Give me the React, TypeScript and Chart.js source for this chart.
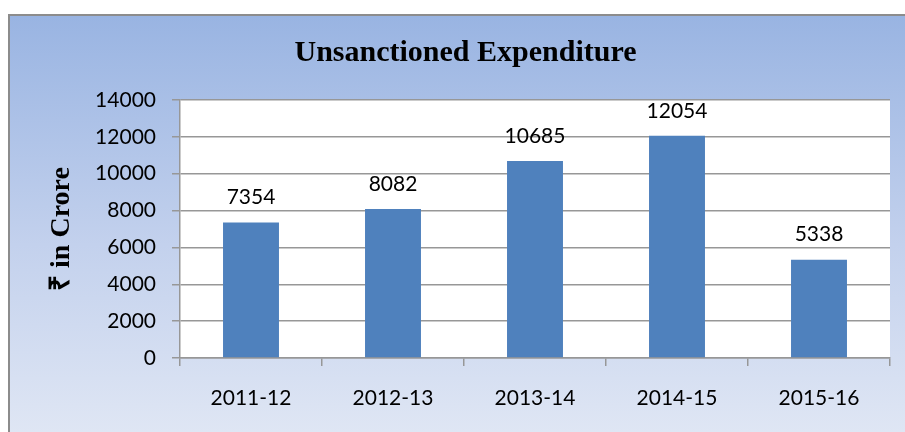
import { useEffect, useRef } from "react";
import { Chart, registerables } from "chart.js";

Chart.register(...registerables);

const categories = ["2011-12", "2012-13", "2013-14", "2014-15", "2015-16"];
const values = [7354, 8082, 10685, 12054, 5338];
const yMin = 0;
const yMax = 14000;
const yStep = 2000;
const titleText = "Unsanctioned Expenditure";
const yAxisTitle = "₹ in Crore";

const gridColor = "#979797";
const barColor = "#4F81BD";

const plotBg = {
  id: "plotBg",
  beforeDraw(chart: any) {
    const { ctx, chartArea: a } = chart;
    ctx.save();
    ctx.fillStyle = "#ffffff";
    ctx.fillRect(a.left, a.top, a.right - a.left, a.bottom - a.top);
    ctx.restore();
  },
};

const valueLabels = {
  id: "valueLabels",
  afterDatasetsDraw(chart: any) {
    const { ctx } = chart;
    const meta = chart.getDatasetMeta(0);
    ctx.save();
    ctx.font = "21px Lato, 'Open Sans', sans-serif";
    ctx.fillStyle = "#000";
    ctx.textAlign = "center";
    ctx.textBaseline = "middle";
    meta.data.forEach((bar: any, i: number) => {
      ctx.fillText(String(values[i]), bar.x, bar.y - 25);
    });
    ctx.restore();
  },
};

export default function App() {
  const ref = useRef<HTMLCanvasElement>(null);

  useEffect(() => {
    if (!ref.current) return;
    const tickFont = { family: "Lato, 'Open Sans', sans-serif", size: 21 };
    const chart = new Chart(ref.current, {
      type: "bar",
      data: {
        labels: categories,
        datasets: [
          {
            data: values,
            backgroundColor: barColor,
            borderWidth: 0,
            barPercentage: 0.394,
            categoryPercentage: 1,
          },
        ],
      },
      options: {
        responsive: false,
        animation: false,
        layout: { padding: { left: 31, right: 15, top: 0, bottom: 0 } },
        plugins: {
          legend: { display: false },
          tooltip: { enabled: false },
          title: {
            display: true,
            text: titleText,
            color: "#000",
            font: { family: "'Liberation Serif', 'Times New Roman', serif", size: 30, weight: "bold", lineHeight: 1.2 },
            padding: { top: 19, bottom: 29 },
          },
        },
        scales: {
          x: {
            grid: {
              display: true,
              drawOnChartArea: false,
              drawTicks: true,
              tickLength: 8,
              color: gridColor,
              lineWidth: 1.5,
            },
            border: { display: true, color: gridColor, width: 1.5 },
            ticks: { color: "#000", font: tickFont, padding: 20 },
            afterFit: (s: any) => {
              s.height = 74;
            },
          },
          y: {
            min: yMin,
            max: yMax,
            ticks: {
              stepSize: yStep,
              color: "#000",
              font: tickFont,
              padding: 16,
              callback: (v: any) => String(v),
            },
            grid: { color: gridColor, lineWidth: 1.5, tickLength: 8 },
            border: { display: true, color: gridColor, width: 1.5 },
            title: {
              display: true,
              text: yAxisTitle,
              color: "#000",
              font: { family: "'Liberation Serif', 'Times New Roman', serif", size: 28, weight: "bold", lineHeight: 1.2 },
              padding: { top: 4, bottom: 0 },
            },
            afterFit: (s: any) => {
              s.width = 139;
            },
          },
        },
      } as any,
      plugins: [plotBg, valueLabels],
    });
    return () => chart.destroy();
  }, []);

  return (
    <div
      style={{
        position: "fixed",
        left: 8,
        top: 14,
        width: 897,
        height: 418,
        boxSizing: "border-box",
        borderTop: "2px solid #8c8c8c",
        borderLeft: "2px solid #8c8c8c",
        background: "linear-gradient(to bottom, #99b4e2 0%, #c3d1ed 55%, #dfe6f4 100%)",
      }}
    >
      <canvas ref={ref} width={895} height={416} style={{ display: "block" }} />
    </div>
  );
}
